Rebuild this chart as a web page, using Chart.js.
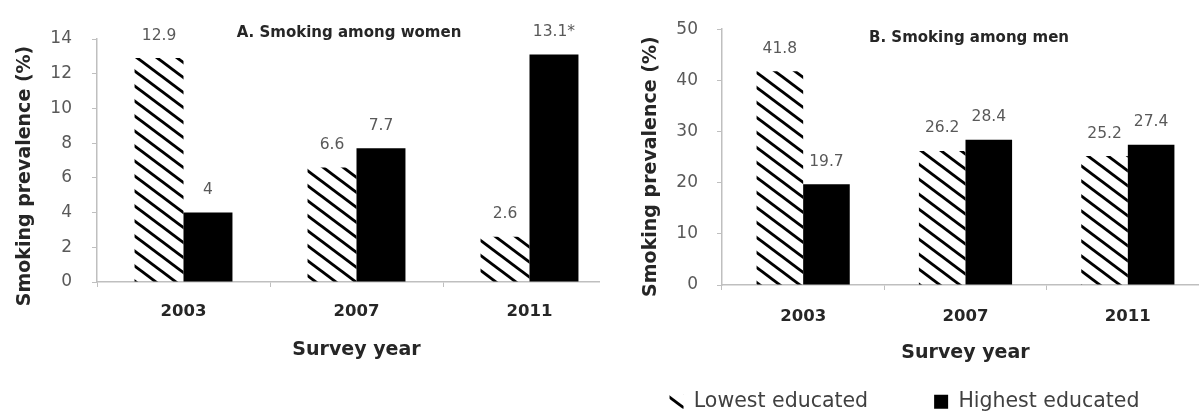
<!DOCTYPE html>
<html>
<head>
<meta charset="utf-8">
<script src="https://cdn.jsdelivr.net/npm/chart.js@4.4.1/dist/chart.umd.min.js"></script>
<style>
  html, body { margin: 0; padding: 0; background: #fff; }
  body { width: 1199px; height: 412px; position: relative; overflow: hidden; }
  .panel { position: absolute; top: 0; height: 412px; overflow: hidden; }
  #panelA { left: 0; width: 600px; }
  #panelB { left: 600px; width: 599px; }
</style>
</head>
<body>
<div class="panel" id="panelA"><canvas id="womenChart" width="630" height="412"></canvas></div>
<div class="panel" id="panelB"><canvas id="menChart" width="615" height="422"></canvas></div>
<script>
const years = ['2003', '2007', '2011'];
const seriesNames = ['Lowest educated', 'Highest educated'];

const womenLowest = [12.9, 6.6, 2.6];
const womenHighest = [4, 7.7, 13.1];
const womenHighestNote = ['', '', '*'];   // * = significant change

const menLowest = [41.8, 26.2, 25.2];
const menHighest = [19.7, 28.4, 27.4];

const womenTicks = [0, 2, 4, 6, 8, 10, 12, 14];
const menTicks = [0, 10, 20, 30, 40, 50];

const FONT = '"DejaVu Sans", sans-serif';
Chart.defaults.font.family = FONT;

// diagonal "\" hatch for the lowest educated group
function makeHatch() {
    const c = document.createElement('canvas');
    c.width = 20;
    c.height = 15;
    const g = c.getContext('2d');
    g.strokeStyle = '#000';
    g.lineWidth = 2.9;
    [-15, 0, 15].forEach(dy => {
        g.beginPath();
        g.moveTo(-20, dy - 15);
        g.lineTo(40, dy + 30);
        g.stroke();
    });
    return g.createPattern(c, 'repeat');
}
const hatch = makeHatch();

// value labels above bars
const barLabels = {
    id: 'barLabels',
    afterDatasetsDraw(chart) {
        const ctx = chart.ctx;
        ctx.save();
        ctx.font = '15.5px ' + FONT;
        ctx.fillStyle = '#595959';
        ctx.textAlign = 'center';
        ctx.textBaseline = 'middle';
        chart.data.datasets.forEach((ds, i) => {
            chart.getDatasetMeta(i).data.forEach((bar, j) => {
                const note = ds.notes ? ds.notes[j] : '';
                ctx.fillText(String(ds.data[j]) + note, bar.x, bar.y - 22.5);
            });
        });
        ctx.restore();
    }
};

// panel title inside the plot + y axis title
const panelText = {
    id: 'panelText',
    afterDraw(chart, args, opts) {
        const { ctx, chartArea: a } = chart;
        ctx.save();
        ctx.fillStyle = '#262626';
        ctx.textAlign = 'center';
        ctx.textBaseline = 'middle';
        ctx.font = 'bold 15px ' + FONT;
        ctx.fillText(opts.title, (a.left + a.right) / 2 + opts.titleDx, opts.titleY);
        ctx.font = 'bold 19px ' + FONT;
        ctx.translate(opts.axisX, (a.top + a.bottom) / 2 + opts.axisDy);
        ctx.rotate(-Math.PI / 2);
        ctx.fillText('Smoking prevalence (%)', 0, 0);
        ctx.restore();
    }
};

function makeChart(id, lowest, highest, notes, ticks, o) {
    const ctx = document.getElementById(id).getContext('2d');
    return new Chart(ctx, {
        type: 'bar',
        data: {
            labels: years,
            datasets: [
                { label: seriesNames[0], data: lowest, backgroundColor: hatch, borderWidth: 0 },
                { label: seriesNames[1], data: highest, notes: notes, backgroundColor: '#000', borderWidth: 0 }
            ]
        },
        options: {
            responsive: false,
            animation: false,
            categoryPercentage: o.catPct,
            barPercentage: 1,
            layout: { padding: { top: o.top, right: o.right, left: 0, bottom: 0 } },
            scales: {
                x: {
                    afterFit: s => { s.height = o.xHeight; },
                    grid: { drawOnChartArea: false, drawTicks: true, tickLength: 5, color: '#bfbfbf' },
                    border: { display: true, color: '#bfbfbf', width: 1.5 },
                    ticks: { padding: o.xPad, color: '#262626', font: { size: 16.5, weight: 'bold' } },
                    title: {
                        display: true,
                        text: 'Survey year',
                        color: '#262626',
                        font: { size: 19, weight: 'bold' },
                        padding: { top: 0, bottom: o.xTitlePad }
                    }
                },
                y: {
                    min: ticks[0],
                    max: ticks[ticks.length - 1],
                    afterFit: s => { s.width = o.yWidth; },
                    afterBuildTicks: s => { s.ticks = ticks.map(v => ({ value: v })); },
                    grid: { drawOnChartArea: false, drawTicks: true, tickLength: 5, color: '#bfbfbf' },
                    border: { display: true, color: '#bfbfbf', width: 1.5 },
                    ticks: { padding: o.yPad, color: '#595959', font: { size: 17 } }
                }
            },
            plugins: {
                legend: {
                    display: o.legend,
                    position: 'bottom',
                    labels: {
                        boxWidth: 14,
                        boxHeight: 14,
                        padding: 66,
                        color: '#404040',
                        font: { size: 20.5 }
                    }
                },
                tooltip: { enabled: false },
                panelText: o.text
            }
        },
        plugins: [barLabels, panelText]
    });
}

document.addEventListener('DOMContentLoaded', () => {
    makeChart('womenChart', womenLowest, womenHighest, womenHighestNote, womenTicks, {
        catPct: 0.566, top: 39, right: 14, xHeight: 130, xPad: 15, xTitlePad: 50.6,
        yWidth: 97, yPad: 20, legend: false,
        text: { title: 'A. Smoking among women', titleDx: -7.5, titleY: 33, axisX: 25, axisDy: 15.5 }
    });
    makeChart('menChart', menLowest, menHighest, null, menTicks, {
        catPct: 0.574, top: 28, right: 6, xHeight: 40.5, xPad: 17, xTitlePad: -38.9,
        yWidth: 122, yPad: 19, legend: true,
        text: { title: 'B. Smoking among men', titleDx: 3.5, titleY: 38, axisX: 51, axisDy: 9.5 }
    });
});
</script>
</body>
</html>
